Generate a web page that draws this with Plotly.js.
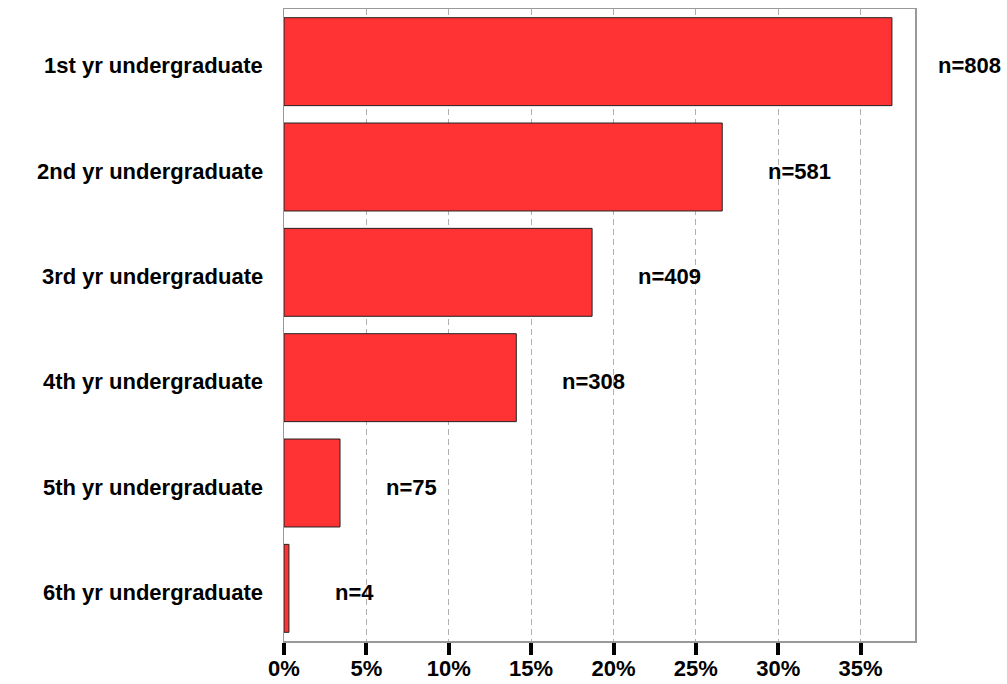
<!DOCTYPE html>
<html>
<head>
<meta charset="utf-8">
<script src="https://cdn.plot.ly/plotly-3.0.1.min.js"></script>
<style>html,body{margin:0;padding:0;background:#fff;}#chart{width:1007px;height:684px;}</style>
</head>
<body>
<div id="chart"></div>
<script>
const categories = ["1st yr undergraduate","2nd yr undergraduate","3rd yr undergraduate","4th yr undergraduate","5th yr undergraduate","6th yr undergraduate"];
const percents = [36.9, 26.6, 18.7, 14.1, 3.4, 0.3];
const counts = ["n=808","n=581","n=409","n=308","n=75","n=4"];
const tickVals = [0,5,10,15,20,25,30,35];
const tickText = ["0%","5%","10%","15%","20%","25%","30%","35%"];

const FONT = "Arial, 'Liberation Sans', sans-serif";

const trace = {
  type: "bar",
  orientation: "h",
  x: percents,
  y: categories,
  marker: {color: "#FF3333", line: {color: "#222", width: 1}},
  hoverinfo: "none"
};

const countLabels = categories.map((c, i) => ({
  x: percents[i], y: c, xref: "x", yref: "y",
  text: "<b>" + counts[i] + "</b>",
  showarrow: false, xanchor: "left", xshift: 44, yshift: -4,
  font: {family: FONT, size: 22, color: "#000"}
}));

const catLabels = categories.map((c) => ({
  x: 0, y: c, xref: "paper", yref: "y",
  text: "<b>" + c + "</b>",
  showarrow: false, xanchor: "right", xshift: -19, yshift: -4,
  font: {family: FONT, size: 22, color: "#000"}
}));

const layout = {
  width: 1007, height: 684,
  margin: {l: 284, r: 92, t: 9, b: 43, pad: 0},
  paper_bgcolor: "#fff", plot_bgcolor: "#fff",
  bargap: 0.165,
  showlegend: false,
  font: {family: FONT, color: "#000"},
  xaxis: {
    range: [0, 38.3],
    tickvals: tickVals, ticktext: tickText,
    ticks: "outside", ticklen: 12, tickwidth: 4, tickcolor: "#000",
    ticklabelstandoff: -5,
    tickfont: {family: FONT, size: 22, color: "#000", weight: "bold"},
    showgrid: true, gridcolor: "#b0b0b0", gridwidth: 1, griddash: "6px,4px",
    showline: true, linecolor: "#999", linewidth: 1.5, mirror: true,
    zeroline: false, fixedrange: true
  },
  yaxis: {
    categoryorder: "array", categoryarray: categories,
    autorange: "reversed",
    ticks: "", showticklabels: false,
    showgrid: false,
    showline: true, linecolor: "#999", linewidth: 1.5, mirror: true,
    zeroline: false, fixedrange: true
  },
  annotations: countLabels.concat(catLabels)
};

Plotly.newPlot("chart", [trace], layout, {displayModeBar: false, staticPlot: true});
</script>
</body>
</html>
